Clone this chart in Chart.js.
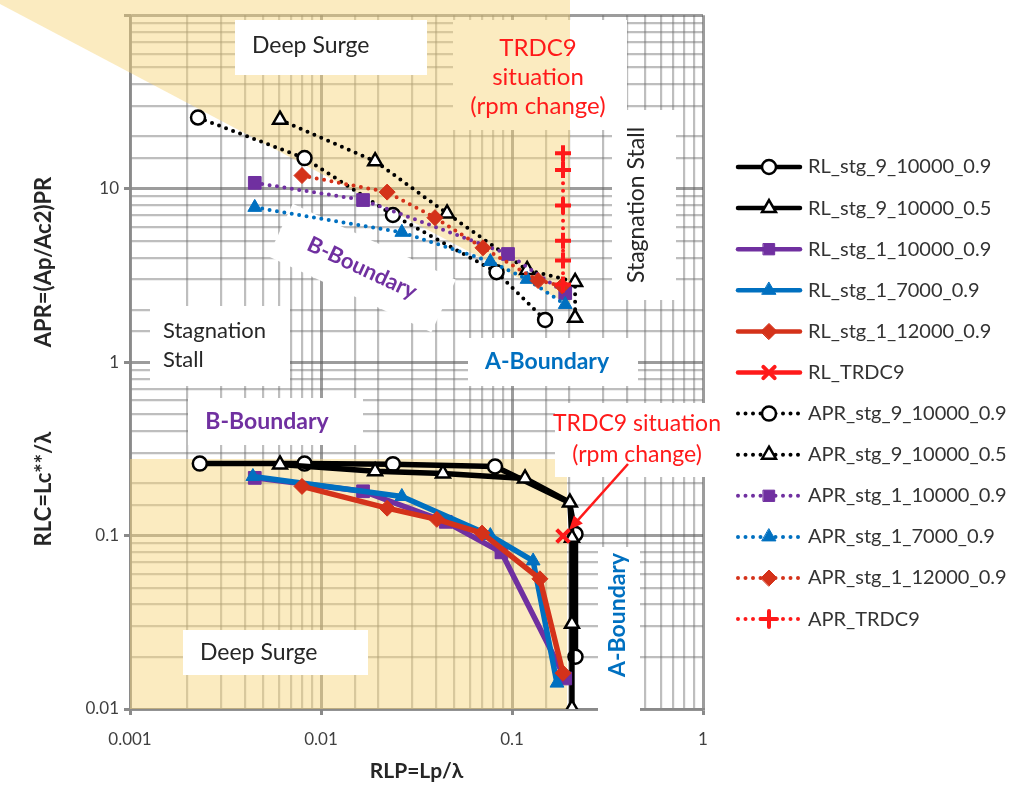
<!DOCTYPE html>
<html>
<head>
<meta charset="utf-8">
<title>RLP / RLC / APR map</title>
<script src="https://cdn.jsdelivr.net/npm/chart.js@4.4.1/dist/chart.umd.min.js"></script>
<style>
  html, body { margin: 0; padding: 0; background: #fff; }
  #wrap { width: 1025px; height: 805px; }
</style>
</head>
<body>
<div id="wrap"><canvas id="map-chart" width="1025" height="805"></canvas></div>
<script>
// RLC = Lc**/lambda curves (lower family), x = RLP = Lp/lambda
const rl9_09_rlp = [0.00232, 0.0082, 0.0238, 0.0815, 0.2, 0.215, 0.215];
const rl9_09_rlc = [0.26, 0.26, 0.258, 0.25, 0.155, 0.102, 0.02];
const rl9_05_rlp = [0.0061, 0.0192, 0.0435, 0.117, 0.201, 0.206, 0.206, 0.206];
const rl9_05_rlc = [0.257, 0.235, 0.228, 0.2135, 0.155, 0.097, 0.031, 0.0101];
const rl1_10k_rlp = [0.0045, 0.0166, 0.045, 0.088, 0.19];
const rl1_10k_rlc = [0.215, 0.18, 0.12, 0.08, 0.015];
const rl1_7k_rlp = [0.0044, 0.0265, 0.077, 0.129, 0.172];
const rl1_7k_rlc = [0.219, 0.168, 0.1, 0.0714, 0.0141];
const rl1_12k_rlp = [0.00795, 0.0222, 0.0404, 0.0697, 0.14, 0.185];
const rl1_12k_rlc = [0.192, 0.1438, 0.124, 0.1033, 0.0563, 0.0161];
const rlTrdc9_rlp = [0.185];
const rlTrdc9_rlc = [0.0994];

// APR = (Ap/Ac2)PR curves (upper family)
const apr9_09_rlp = [0.00227, 0.0082, 0.0238, 0.083, 0.149];
const apr9_09_apr = [25.7, 15.0, 7.05, 3.3, 1.75];
const apr9_05_rlp = [0.0061, 0.0192, 0.0457, 0.12, 0.214, 0.214];
const apr9_05_apr = [25.0, 14.4, 7.2, 3.4, 2.9, 1.8];
const apr1_10k_rlp = [0.0045, 0.0166, 0.0953, 0.19];
const apr1_10k_apr = [10.8, 8.6, 4.2, 2.5];
const apr1_7k_rlp = [0.0045, 0.0265, 0.077, 0.12, 0.19];
const apr1_7k_apr = [7.8, 5.6, 3.8, 3.0, 2.15];
const apr1_12k_rlp = [0.00795, 0.0222, 0.0395, 0.0705, 0.137, 0.183];
const apr1_12k_apr = [11.9, 9.55, 6.8, 4.56, 2.95, 2.75];
const aprTrdc9_rlp = [0.185, 0.185, 0.185, 0.185, 0.185, 0.185];
const aprTrdc9_apr = [16.0, 12.8, 8.0, 5.0, 3.85, 2.8];

const xTickLabels = ['0.001', '0.01', '0.1', '1'];
const yTickLabels = ['0.01', '0.1', '1', '10'];

const FONT = 'Lato, "Open Sans", sans-serif';
const PURPLE = '#7030a0';
const BLUE = '#0070c0';
const DARKRED = '#d4321a';
const RED = '#ff1a1a';

const series = [
  { label: 'RL_stg_9_10000_0.9', xs: rl9_09_rlp, ys: rl9_09_rlc, color: '#000', shape: 'circle', fill: '#fff', r: 7, bw: 2.5, hide: [4] },
  { label: 'RL_stg_9_10000_0.5', xs: rl9_05_rlp, ys: rl9_05_rlc, color: '#000', shape: 'triangle', fill: '#fff', r: 8, bw: 2.5 },
  { label: 'RL_stg_1_10000_0.9', xs: rl1_10k_rlp, ys: rl1_10k_rlc, color: PURPLE, shape: 'rect', fill: PURPLE, r: 9, bw: 1 },
  { label: 'RL_stg_1_7000_0.9', xs: rl1_7k_rlp, ys: rl1_7k_rlc, color: BLUE, shape: 'triangle', fill: BLUE, r: 8, bw: 1 },
  { label: 'RL_stg_1_12000_0.9', xs: rl1_12k_rlp, ys: rl1_12k_rlc, color: DARKRED, shape: 'rectRot', fill: DARKRED, r: 8, bw: 1 },
  { label: 'RL_TRDC9', xs: rlTrdc9_rlp, ys: rlTrdc9_rlc, color: RED, shape: 'crossRot', fill: RED, r: 9, bw: 4 },
  { label: 'APR_stg_9_10000_0.9', xs: apr9_09_rlp, ys: apr9_09_apr, color: '#000', shape: 'circle', fill: '#fff', r: 7, bw: 2.5, dotted: true },
  { label: 'APR_stg_9_10000_0.5', xs: apr9_05_rlp, ys: apr9_05_apr, color: '#000', shape: 'triangle', fill: '#fff', r: 8, bw: 2.5, dotted: true },
  { label: 'APR_stg_1_10000_0.9', xs: apr1_10k_rlp, ys: apr1_10k_apr, color: PURPLE, shape: 'rect', fill: PURPLE, r: 9, bw: 1, dotted: true },
  { label: 'APR_stg_1_7000_0.9', xs: apr1_7k_rlp, ys: apr1_7k_apr, color: BLUE, shape: 'triangle', fill: BLUE, r: 8, bw: 1, dotted: true },
  { label: 'APR_stg_1_12000_0.9', xs: apr1_12k_rlp, ys: apr1_12k_apr, color: DARKRED, shape: 'rectRot', fill: DARKRED, r: 8, bw: 1, dotted: true },
  { label: 'APR_TRDC9', xs: aprTrdc9_rlp, ys: aprTrdc9_apr, color: RED, shape: 'cross', fill: RED, r: 8, bw: 4, dotted: true }
];

const datasets = series.map((s, i) => ({
  label: s.label,
  data: s.xs.map((x, k) => ({ x: x, y: s.ys[k] })),
  showLine: true,
  borderColor: s.color,
  borderWidth: s.dotted ? 4 : 5.5,
  borderDash: s.dotted ? [0, 7.5] : [],
  borderCapStyle: 'round',
  borderJoinStyle: 'round',
  pointStyle: s.shape,
  // a bend point without its own marker gets radius 0
  pointRadius: s.xs.map((_, k) => (s.hide && s.hide.includes(k)) ? 0 : s.r),
  pointHoverRadius: s.r,
  pointBackgroundColor: s.fill,
  pointBorderColor: s.color,
  pointBorderWidth: s.bw,
  order: series.length - i   // later series on top
}));

function isDecade(v) {
  const l = Math.log10(v);
  return Math.abs(l - Math.round(l)) < 1e-6;
}

function tickText(labels) {
  return function (value) {
    const hit = labels.find(t => Math.abs(Math.log10(Number(t)) - Math.log10(value)) < 1e-6);
    return hit || '';
  };
}

const gridColor = c => (c.tick && isDecade(c.tick.value)) ? 'rgba(90,90,90,0.6)' : 'rgba(110,110,110,0.45)';
const gridWidth = c => (c.tick && isDecade(c.tick.value)) ? 3 : 2.2;
const tickColor = c => (c.tick && isDecade(c.tick.value)) ? '#8a8a8a' : 'rgba(0,0,0,0)';

// ---- overlay drawing helpers ----
function box(ctx, x, y, w, h) {
  ctx.fillStyle = '#fff';
  ctx.fillRect(x, y, w, h);
}

function text(ctx, lines, x, y, opts) {
  const o = Object.assign({ color: '#262626', size: 22, weight: 'normal', align: 'center', gap: 29, rot: 0 }, opts);
  ctx.save();
  ctx.translate(x, y);
  ctx.rotate(o.rot * Math.PI / 180);
  ctx.fillStyle = o.color;
  ctx.font = o.weight + ' ' + o.size + 'px ' + FONT;
  ctx.textAlign = o.align;
  ctx.textBaseline = 'middle';
  lines.forEach((ln, k) => ctx.fillText(ln, 0, k * o.gap));
  ctx.restore();
}

const zonesPlugin = {
  id: 'zones',
  beforeDatasetsDraw(chart) {
    const ctx = chart.ctx;
    ctx.save();

    // label box sitting under the shaded zone
    box(ctx, 453, 20, 174, 110);

    // shaded zones
    ctx.fillStyle = 'rgba(247, 212, 122, 0.47)';
    ctx.beginPath();
    ctx.moveTo(0, 0);
    ctx.lineTo(570, 0);
    ctx.lineTo(570, 305);
    ctx.lineTo(0, 4);
    ctx.closePath();
    ctx.fill();
    ctx.fillRect(130, 459, 437, chart.chartArea.bottom - 459);

    // label boxes
    box(ctx, 235, 20, 192, 55);
    box(ctx, 612, 110, 64, 190);
    box(ctx, 150, 306, 140, 80);
    box(ctx, 468, 338, 170, 48);
    box(ctx, 188, 398, 175, 47);
    box(ctx, 555, 403, 168, 74);
    box(ctx, 183, 630, 185, 45);
    box(ctx, 598, 547, 42, 166);
    ctx.save();
    ctx.translate(362, 268);
    ctx.rotate(25 * Math.PI / 180);
    ctx.fillStyle = '#fff';
    ctx.fillRect(-90, -29, 180, 58);
    ctx.restore();

    // zone names
    text(ctx, ['Deep Surge'], 252, 46, { align: 'left', size: 23 });
    text(ctx, ['TRDC9', 'situation', '(rpm change)'], 538, 48, { color: RED, size: 24, gap: 29 });
    text(ctx, ['Stagnation Stall'], 637, 205, { rot: -90, size: 23 });
    text(ctx, ['B-Boundary'], 362, 268, { color: PURPLE, weight: 'bold', size: 22, rot: 25 });
    text(ctx, ['Stagnation', 'Stall'], 163, 331, { align: 'left', gap: 29 });
    text(ctx, ['A-Boundary'], 547, 362, { color: BLUE, weight: 'bold', size: 23 });
    text(ctx, ['B-Boundary'], 267, 422, { color: PURPLE, weight: 'bold', size: 23 });
    text(ctx, ['TRDC9 situation', '(rpm change)'], 637, 424, { color: RED, size: 23, gap: 31 });
    text(ctx, ['Deep Surge'], 200, 653, { align: 'left', size: 23 });
    text(ctx, ['A-Boundary'], 618, 615, { color: BLUE, weight: 'bold', size: 23, rot: -90 });
    ctx.restore();
  },

  afterDatasetsDraw(chart) {
    // arrow from the lower TRDC9 note to the RL_TRDC9 point
    const idx = series.findIndex(s => s.label === 'RL_TRDC9');
    const pt = chart.getDatasetMeta(idx).data[0];
    const ctx = chart.ctx;
    const x0 = 628, y0 = 464, x1 = pt.x + 6, y1 = pt.y - 6;
    const a = Math.atan2(y1 - y0, x1 - x0);
    ctx.save();
    ctx.strokeStyle = RED;
    ctx.fillStyle = RED;
    ctx.lineWidth = 2.5;
    ctx.beginPath();
    ctx.moveTo(x0, y0);
    ctx.lineTo(x1 - 10 * Math.cos(a), y1 - 10 * Math.sin(a));
    ctx.stroke();
    ctx.beginPath();
    ctx.moveTo(x1, y1);
    ctx.lineTo(x1 - 14 * Math.cos(a) + 6 * Math.sin(a), y1 - 14 * Math.sin(a) - 6 * Math.cos(a));
    ctx.lineTo(x1 - 14 * Math.cos(a) - 6 * Math.sin(a), y1 - 14 * Math.sin(a) + 6 * Math.cos(a));
    ctx.closePath();
    ctx.fill();
    ctx.restore();
  },

  afterDraw(chart) {
    const ctx = chart.ctx;
    const area = chart.chartArea;

    // axis titles
    text(ctx, ['RLP=Lp/λ'], (area.left + area.right) / 2, 771, { weight: 'bold', size: 21 });
    text(ctx, ['APR=(Ap/Ac2)PR'], 44, 262, { weight: 'bold', size: 22, rot: -90 });
    text(ctx, ['RLC=Lc**/λ'], 44, 489, { weight: 'bold', size: 22, rot: -90 });

    // legend: line sample + marker + name
    const draw = Chart.helpers && Chart.helpers.drawPoint;
    chart.data.datasets.forEach((ds, i) => {
      const s = series[i];
      const y = 167 + i * 41.1;
      ctx.save();
      ctx.strokeStyle = ds.borderColor;
      ctx.lineWidth = s.dotted ? 4 : 4.5;
      ctx.lineCap = 'round';
      ctx.setLineDash(ds.borderDash);
      ctx.beginPath();
      ctx.moveTo(738, y);
      ctx.lineTo(800, y);
      ctx.stroke();
      ctx.setLineDash([]);
      ctx.fillStyle = ds.pointBackgroundColor;
      ctx.strokeStyle = ds.pointBorderColor;
      ctx.lineWidth = ds.pointBorderWidth;
      if (draw) {
        draw(ctx, { pointStyle: ds.pointStyle, radius: Math.min(s.r, 8), borderWidth: ds.pointBorderWidth, rotation: 0 }, 769, y);
      }
      ctx.fillStyle = '#333';
      ctx.font = '20px ' + FONT;
      ctx.textAlign = 'left';
      ctx.textBaseline = 'middle';
      ctx.fillText(ds.label, 808, y);
      ctx.restore();
    });
  }
};

new Chart(document.getElementById('map-chart'), {
  type: 'scatter',
  data: { datasets: datasets },
  options: {
    responsive: false,
    animation: false,
    devicePixelRatio: 1,
    layout: { padding: { top: 11, right: 322, left: 0, bottom: 0 } },
    plugins: {
      legend: { display: false },
      tooltip: { enabled: false }
    },
    scales: {
      x: {
        type: 'logarithmic',
        min: 0.001,
        max: 1,
        afterFit: scale => { scale.height = 96; },
        border: { display: true, color: '#8a8a8a', width: 2.5 },
        grid: { color: gridColor, lineWidth: gridWidth, tickColor: tickColor, tickLength: 6 },
        ticks: {
          autoSkip: false,
          maxRotation: 0,
          padding: 14,
          color: '#404040',
          font: { family: FONT, size: 17 },
          callback: tickText(xTickLabels)
        }
      },
      y: {
        type: 'logarithmic',
        min: 0.01,
        max: 100,
        afterFit: scale => { scale.width = 130; },
        border: { display: true, color: '#8a8a8a', width: 2.5 },
        grid: { color: gridColor, lineWidth: gridWidth, tickColor: tickColor, tickLength: 6 },
        ticks: {
          autoSkip: false,
          padding: 5,
          color: '#404040',
          font: { family: FONT, size: 17 },
          callback: tickText(yTickLabels)
        }
      }
    }
  },
  plugins: [zonesPlugin]
});
</script>
</body>
</html>
